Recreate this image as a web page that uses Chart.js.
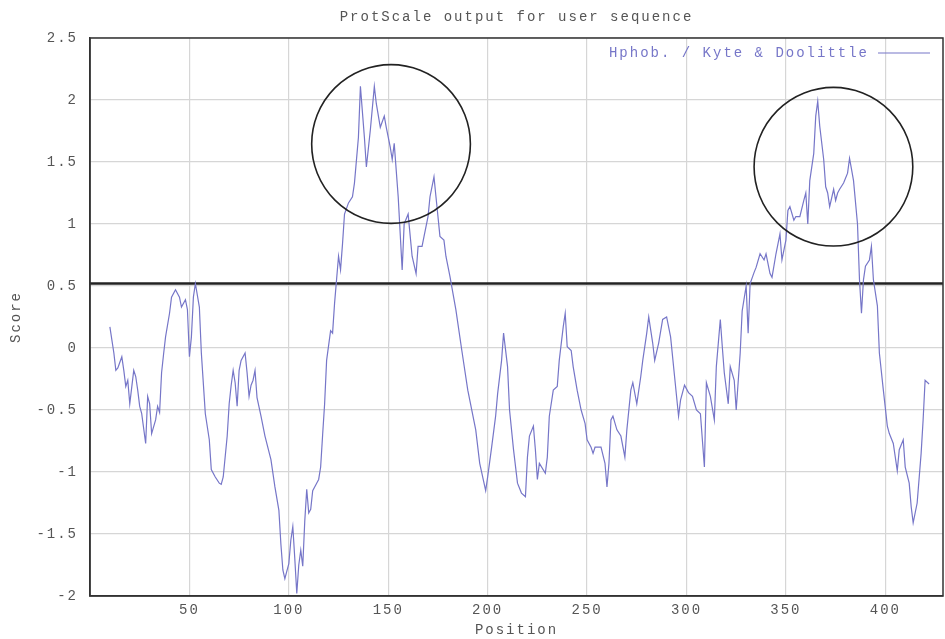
<!DOCTYPE html>
<html>
<head>
<meta charset="utf-8">
<title>ProtScale</title>
<script src="https://cdn.jsdelivr.net/npm/chart.js@4.4.0/dist/chart.umd.min.js"></script>
<style>
  html, body { margin: 0; padding: 0; background: #fff; }
  #caixa { width: 945px; height: 639px; }
</style>
</head>
<body>
<div id="caixa"><canvas id="grafico"></canvas></div>
<script>
const titulo = 'ProtScale output for user sequence';
const rotuloSerie = 'Hphob. / Kyte & Doolittle';
const rotuloX = 'Position';
const rotuloY = 'Score';

// posicao do residuo e escore
const posicoes = [10,12,13,14,16,17,18,19,20,22,23,24,25,26,28,29,30,31,33,34,35,36,37,38,40,41,43,44,45,46,48,49,50,51,52,53,55,56,58,60,61,63,65,66,67,69,70,71,72,73,74,75,76,78,79,80,81,82,83,84,86,88,91,93,95,96,97,98,99,100,
  101,102,103,104,105,106,107,108,109,110,111,112,114,115,116,117,118,119,121,122,123,124,125,126,127,128,130,132,133,135,136,138,139,141,143,144,146,148,149,151,152,153,155,157,158,160,162,164,165,167,168,170,171,173,174,175,176,178,179,181,184,187,190,194,196,199,
  200,202,204,205,207,208,210,211,213,215,217,219,220,221,223,224,225,226,229,230,231,233,235,236,238,239,240,242,243,245,247,249,250,252,253,254,257,259,260,261,262,263,265,267,269,270,272,273,275,277,278,280,281,283,284,286,288,290,292,294,296,297,299,
  301,303,305,307,309,310,312,314,315,317,318,319,321,322,324,325,327,328,330,331,332,334,335,337,339,340,342,343,345,346,347,348,350,351,352,354,355,357,359,360,361,362,364,365,366,367,369,370,371,372,374,375,376,377,379,381,382,383,384,386,387,388,389,390,392,393,394,396,397,399,
  401,402,404,406,407,409,410,412,413,414,416,418,419,420,422];
const escores = [0.17,-0.04,-0.18,-0.16,-0.07,-0.18,-0.31,-0.26,-0.45,-0.18,-0.23,-0.34,-0.47,-0.53,-0.77,-0.39,-0.45,-0.69,-0.58,-0.47,-0.52,-0.2,-0.05,0.09,0.28,0.41,0.47,0.44,0.41,0.33,0.39,0.31,-0.07,0.09,0.41,0.52,0.33,-0.04,-0.53,-0.74,-0.98,-1.04,-1.09,-1.1,-1.04,-0.71,-0.45,-0.3,-0.18,-0.28,-0.47,-0.18,-0.1,-0.04,-0.2,-0.39,-0.3,-0.26,-0.18,-0.4,-0.55,-0.71,-0.9,-1.12,-1.31,-1.58,-1.79,-1.86,-1.8,-1.74,
  -1.55,-1.44,-1.7,-1.98,-1.75,-1.63,-1.76,-1.4,-1.14,-1.33,-1.3,-1.15,-1.09,-1.06,-0.96,-0.7,-0.45,-0.1,0.14,0.12,0.36,0.55,0.74,0.63,0.84,1.08,1.17,1.22,1.33,1.7,2.11,1.7,1.46,1.76,2.11,1.97,1.78,1.87,1.78,1.62,1.52,1.65,1.22,0.63,1.0,1.08,0.74,0.6,0.82,0.82,0.9,1.06,1.22,1.38,1.22,1.06,0.9,0.87,0.74,0.58,0.31,-0.02,-0.34,-0.66,-0.93,-1.15,
  -1.04,-0.8,-0.55,-0.37,-0.1,0.12,-0.15,-0.5,-0.82,-1.09,-1.17,-1.2,-0.88,-0.71,-0.63,-0.82,-1.06,-0.93,-1.01,-0.88,-0.55,-0.34,-0.31,-0.1,0.17,0.28,0.01,-0.02,-0.15,-0.34,-0.5,-0.61,-0.74,-0.8,-0.85,-0.8,-0.8,-0.93,-1.12,-0.93,-0.58,-0.55,-0.66,-0.71,-0.88,-0.66,-0.34,-0.28,-0.45,-0.23,-0.1,0.12,0.25,0.04,-0.1,0.04,0.23,0.25,0.09,-0.23,-0.55,-0.42,-0.3,
  -0.36,-0.39,-0.5,-0.53,-0.96,-0.28,-0.39,-0.58,-0.15,0.23,0.01,-0.2,-0.45,-0.15,-0.26,-0.5,-0.04,0.3,0.5,0.12,0.52,0.61,0.65,0.76,0.71,0.76,0.6,0.57,0.76,0.84,0.92,0.71,0.87,1.11,1.14,1.03,1.06,1.06,1.19,1.25,1.0,1.35,1.57,1.87,1.99,1.79,1.52,1.3,1.25,1.14,1.28,1.19,1.25,1.28,1.33,1.41,1.53,1.44,1.35,1.0,0.55,0.28,0.55,0.66,0.71,0.82,0.55,0.34,-0.04,-0.34,
  -0.63,-0.69,-0.77,-0.99,-0.82,-0.74,-0.96,-1.09,-1.28,-1.41,-1.25,-0.85,-0.58,-0.26,-0.29];

// linha de corte horizontal
const corte = 0.52;
const limitesX = [0, 429];
const limitesY = [-2, 2.5];

// regioes circuladas (centro em posicao/escore, raio em unidades de escore)
const destaques = [
  { pos: 151.4, escore: 1.645, raio: 0.64 },
  { pos: 373.9, escore: 1.462, raio: 0.64 }
];

const corLinha = 'rgb(118,118,200)';
const corTexto = '#555';
const corGrade = 'rgb(214,214,214)';
const fonte = { family: "'Liberation Mono', 'DejaVu Sans Mono', monospace", size: 14, weight: 'normal' };

const pontos = posicoes.map((p, i) => ({ x: p, y: escores[i] }));

// espaco entre letras para imitar a fonte larga do gnuplot
const espacamento = {
  id: 'espacamento',
  beforeUpdate(chart) { chart.ctx.letterSpacing = '2px'; },
  beforeDraw(chart) { chart.ctx.letterSpacing = '2px'; }
};

// moldura, circulos e legenda dentro da area
const extras = {
  id: 'extras',
  afterDatasetsDraw(chart) {
    const c = chart.ctx;
    const a = chart.chartArea;
    const sx = chart.scales.x;
    const sy = chart.scales.y;
    c.save();
    c.strokeStyle = '#333';
    c.lineWidth = 1.5;
    c.strokeRect(a.left, a.top, a.right - a.left, a.bottom - a.top);

    c.strokeStyle = '#222';
    c.lineWidth = 1.6;
    destaques.forEach(d => {
      const cx = sx.getPixelForValue(d.pos);
      const cy = sy.getPixelForValue(d.escore);
      const r = Math.abs(sy.getPixelForValue(0) - sy.getPixelForValue(d.raio));
      c.beginPath();
      c.arc(cx, cy, r, 0, Math.PI * 2);
      c.stroke();
    });

    const yl = a.top + 15;
    c.font = fonte.size + 'px ' + fonte.family;
    c.letterSpacing = '2px';
    c.fillStyle = corLinha;
    c.textAlign = 'right';
    c.textBaseline = 'middle';
    c.fillText(chart.data.datasets[0].label, a.right - 74, yl);
    c.strokeStyle = corLinha;
    c.lineWidth = 1.2;
    c.beginPath();
    c.moveTo(a.right - 65, yl);
    c.lineTo(a.right - 13, yl);
    c.stroke();
    c.restore();
  }
};

const chart = new Chart(document.getElementById('grafico'), {
  type: 'line',
  data: {
    datasets: [{
      label: rotuloSerie,
      data: pontos,
      borderColor: corLinha,
      borderWidth: 1.2,
      pointRadius: 0,
      tension: 0,
      fill: false
    }, {
      label: 'corte',
      data: [{ x: limitesX[0], y: corte }, { x: limitesX[1], y: corte }],
      borderColor: '#222',
      borderWidth: 2.4,
      pointRadius: 0,
      fill: false
    }]
  },
  options: {
    responsive: true,
    maintainAspectRatio: false,
    animation: false,
    layout: { padding: { right: 2 } },
    plugins: {
      legend: { display: false },
      tooltip: { enabled: false },
      title: {
        display: true,
        text: titulo,
        color: corTexto,
        font: fonte,
        fullSize: false,
        padding: { top: 9, bottom: 12.2 }
      }
    },
    scales: {
      x: {
        type: 'linear',
        min: limitesX[0],
        max: limitesX[1],
        afterFit(scale) { scale.height = 43; },
        ticks: {
          stepSize: 50,
          includeBounds: false,
          color: corTexto,
          font: fonte,
          padding: 6,
          maxRotation: 0,
          callback: v => v === 0 ? '' : String(v)
        },
        grid: { color: corGrade, lineWidth: 1.2, drawTicks: false },
        border: { color: '#333', width: 1.5 },
        title: { display: true, text: rotuloX, color: corTexto, font: fonte, padding: 0 }
      },
      y: {
        min: limitesY[0],
        max: limitesY[1],
        afterFit(scale) { scale.width = 90; },
        ticks: {
          stepSize: 0.5,
          color: corTexto,
          font: fonte,
          padding: 12,
          callback: v => String(v)
        },
        grid: { color: corGrade, lineWidth: 1.2, drawTicks: false },
        border: { color: '#333', width: 1.5 },
        title: { display: true, text: rotuloY, color: corTexto, font: fonte, padding: { top: 8, bottom: 0 } }
      }
    }
  },
  plugins: [espacamento, extras]
});
</script>
</body>
</html>
